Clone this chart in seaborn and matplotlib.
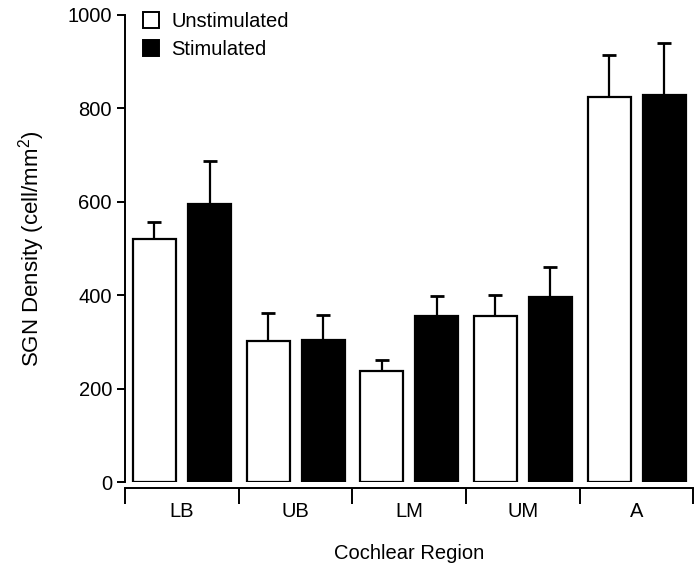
import numpy as np
import pandas as pd
import matplotlib
matplotlib.use('Agg')
import matplotlib.pyplot as plt
import seaborn as sns
from matplotlib.patches import Patch

# Values
regions = ['LB', 'UB', 'LM', 'UM', 'A']
groups = ['Unstimulated', 'Stimulated']
unstim_mean = [520, 302, 237, 355, 824]
unstim_err = [36, 61, 25, 45, 91]
stim_mean = [595, 304, 355, 396, 828]
stim_err = [92, 54, 43, 64, 112]

df = pd.DataFrame({
    'region': regions * 2,
    'group': [groups[0]] * 5 + [groups[1]] * 5,
    'density': unstim_mean + stim_mean,
})

sns.set_style('ticks', {'axes.edgecolor': 'black', 'text.color': 'black',
                        'xtick.color': 'black', 'ytick.color': 'black',
                        'axes.labelcolor': 'black'})
plt.rcParams['font.family'] = ['Liberation Sans', 'DejaVu Sans']
plt.rcParams['mathtext.default'] = 'regular'

fig = plt.figure(figsize=(6.99, 5.76), dpi=100)
ax = fig.add_axes([0.179, 0.163, 0.813, 0.811])

sns.barplot(data=df, x='region', y='density', hue='group', order=regions,
            hue_order=groups, palette=['white', 'black'], edgecolor='black',
            linewidth=1.6, width=0.97, gap=0.22, legend=False, ax=ax)

# upward-only error bars on top of each bar
errs = [unstim_err, stim_err]
for cont, err in zip(ax.containers, errs):
    xs = [b.get_x() + b.get_width() / 2 for b in cont]
    ys = [b.get_height() for b in cont]
    ax.errorbar(xs, ys, yerr=[np.zeros(len(err)), err], fmt='none',
                ecolor='black', elinewidth=1.6, capsize=4.7, capthick=2,
                zorder=0.5)

ax.set_ylim(0, 1000)
ax.set_xlim(-0.5, 4.5)
ax.set_yticks([0, 200, 400, 600, 800, 1000])
ax.tick_params(axis='y', labelsize=14.5, length=6, width=1.4, direction='out')

# category boundaries as ticks, labels at the centres
ax.set_xticks(np.arange(-0.5, 5, 1))
ax.set_xticklabels([])
ax.set_xticks(np.arange(5), minor=True)
ax.set_xticklabels(regions, minor=True)
ax.tick_params(axis='x', which='major', length=11.5, width=1.4, direction='out')
ax.tick_params(axis='x', which='minor', length=0, pad=10, labelsize=14.5)

for s in ['top', 'right']:
    ax.spines[s].set_visible(False)
for s in ['left', 'bottom']:
    ax.spines[s].set_linewidth(1.4)
ax.spines['bottom'].set_position(('outward', 4))

ax.set_xlabel('Cochlear Region', fontsize=14.5, labelpad=17)
ax.set_ylabel('SGN Density (cell/mm$^2$)', fontsize=16, labelpad=15)

handles = [Patch(facecolor='white', edgecolor='black', linewidth=1.4),
           Patch(facecolor='black', edgecolor='black', linewidth=1.4)]
ax.legend(handles, groups, loc='upper left', bbox_to_anchor=(0.0, 1.045),
          frameon=False, fontsize=14.5, handlelength=0.8, handleheight=0.8,
          handletextpad=0.6, labelspacing=0.45)

fig.savefig('out.png', dpi=100)
